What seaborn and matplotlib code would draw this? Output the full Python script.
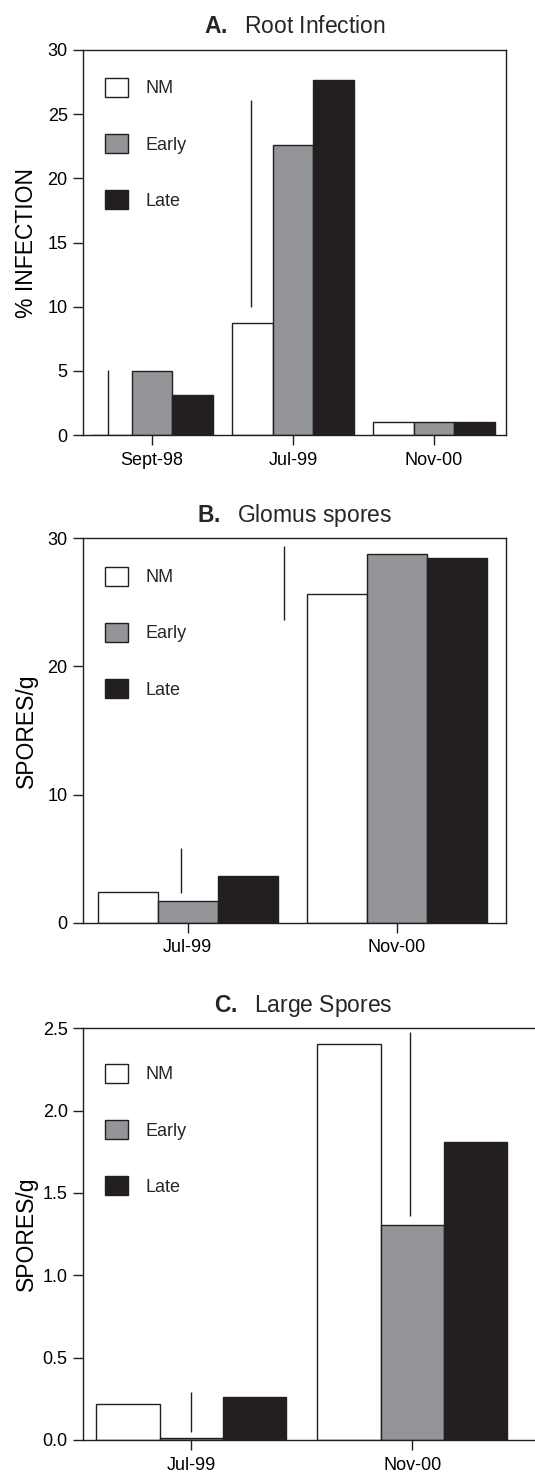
import matplotlib
matplotlib.use("Agg")
import matplotlib.pyplot as plt
from matplotlib.patches import Patch
import seaborn as sns
import pandas as pd

# ---------------- data ----------------
treatments = ["NM", "Early", "Late"]

dates_A = ["Sept-98", "Jul-99", "Nov-00"]
nm_A = [0.0, 8.7, 1.0]
early_A = [5.0, 22.6, 1.0]
late_A = [3.1, 27.7, 1.0]
# LSD bars (x in category units, bottom, top)
lsd_x_A = [-0.31, 0.705]
lsd_lo_A = [0.0, 10.0]
lsd_hi_A = [5.1, 26.1]

dates_B = ["Jul-99", "Nov-00"]
nm_B = [2.42, 25.65]
early_B = [1.72, 28.8]
late_B = [3.67, 28.45]
lsd_x_B = [-0.03, 0.46]
lsd_lo_B = [2.29, 23.6]
lsd_hi_B = [5.86, 29.4]

dates_C = ["Jul-99", "Nov-00"]
nm_C = [0.217, 2.405]
early_C = [0.014, 1.306]
late_C = [0.261, 1.808]
lsd_x_C = [0.0, 0.99]
lsd_lo_C = [0.047, 1.36]
lsd_hi_C = [0.293, 2.48]

# ---------------- style ----------------
sns.set_style("ticks")
plt.rcParams["font.family"] = ["Liberation Sans", "DejaVu Sans"]
plt.rcParams["mathtext.fontset"] = "custom"
plt.rcParams["mathtext.rm"] = "Liberation Sans"
plt.rcParams["mathtext.bf"] = "Liberation Sans:bold"

INK = "#231F20"
colors = {"NM": "#FFFFFF", "Early": "#939598", "Late": "#231F20"}

W, H = 535, 1473
fig = plt.figure(figsize=(W / 100, H / 100), dpi=100)


def px_axes(left, right, top, bottom):
    return fig.add_axes([left / W, 1 - bottom / H, (right - left) / W, (bottom - top) / H])


def make_df(dates, nm, early, late):
    rows = []
    for d, a, b, c in zip(dates, nm, early, late):
        rows.append((d, "NM", a))
        rows.append((d, "Early", b))
        rows.append((d, "Late", c))
    return pd.DataFrame(rows, columns=["date", "treatment", "value"])


def panel(ax, df, dates, title, ylabel, yticks, ylim, xlim, lsd, leg_xy, title_x, ylab_x, fmt=None):
    sns.barplot(data=df, x="date", y="value", hue="treatment", order=dates,
                hue_order=treatments, palette=colors, width=0.86,
                edgecolor=INK, linewidth=1.0, ax=ax, legend=False,
                errorbar=None, saturation=1)
    lx, llo, lhi = lsd
    ax.vlines(lx, llo, lhi, color=INK, linewidth=1.0, zorder=5)
    ax.set_xlim(*xlim)
    ax.set_ylim(*ylim)
    ax.set_yticks(yticks)
    if fmt:
        ax.set_yticklabels([fmt.format(v) for v in yticks])
    ax.set_xlabel("")
    ax.set_ylabel(ylabel, fontsize=16.5, color="black")
    ax.yaxis.set_label_coords(ylab_x, 0.5)
    ax.set_title(title, fontsize=16.5, pad=12, x=title_x)
    ax.tick_params(axis="both", length=7, width=1.0, color=INK, labelsize=13,
                   labelcolor="black", direction="out")
    ax.tick_params(axis="x", pad=5)
    ax.tick_params(axis="y", pad=4)
    for s in ax.spines.values():
        s.set_visible(True)
        s.set_color(INK)
        s.set_linewidth(1.0)
    handles = [Patch(facecolor=colors[t], edgecolor=INK, linewidth=1.0) for t in treatments]
    ax.legend(handles, treatments, loc="upper left", bbox_to_anchor=leg_xy,
              frameon=False, fontsize=13, handlelength=1.27, handleheight=1.27,
              handletextpad=1.0, labelspacing=2.02, borderpad=0, borderaxespad=0)


axA = px_axes(83, 506, 50, 435)
panel(axA, make_df(dates_A, nm_A, early_A, late_A), dates_A,
      r"$\mathbf{A.}$  Root Infection", "% INFECTION",
      [0, 5, 10, 15, 20, 25, 30], (0, 30), (-0.49, 2.51),
      (lsd_x_A, lsd_lo_A, lsd_hi_A), (0.052, 0.928), 0.5, -0.106)

axB = px_axes(83, 506, 538.3, 922.7)
panel(axB, make_df(dates_B, nm_B, early_B, late_B), dates_B,
      r"$\mathbf{B.}$  Glomus spores", "SPORES/g",
      [0, 10, 20, 30], (0, 30), (-0.5, 1.52),
      (lsd_x_B, lsd_lo_B, lsd_hi_B), (0.052, 0.9265), 0.5, -0.106)

axC = px_axes(83, 545, 1028.3, 1440)
panel(axC, make_df(dates_C, nm_C, early_C, late_C), dates_C,
      r"$\mathbf{C.}$  Large Spores", "SPORES/g",
      [0.0, 0.5, 1.0, 1.5, 2.0, 2.5], (0, 2.5), (-0.49, 1.6),
      (lsd_x_C, lsd_lo_C, lsd_hi_C), (0.0476, 0.914), 0.476, -0.097, fmt="{:.1f}")

fig.savefig("out.png", dpi=100)
